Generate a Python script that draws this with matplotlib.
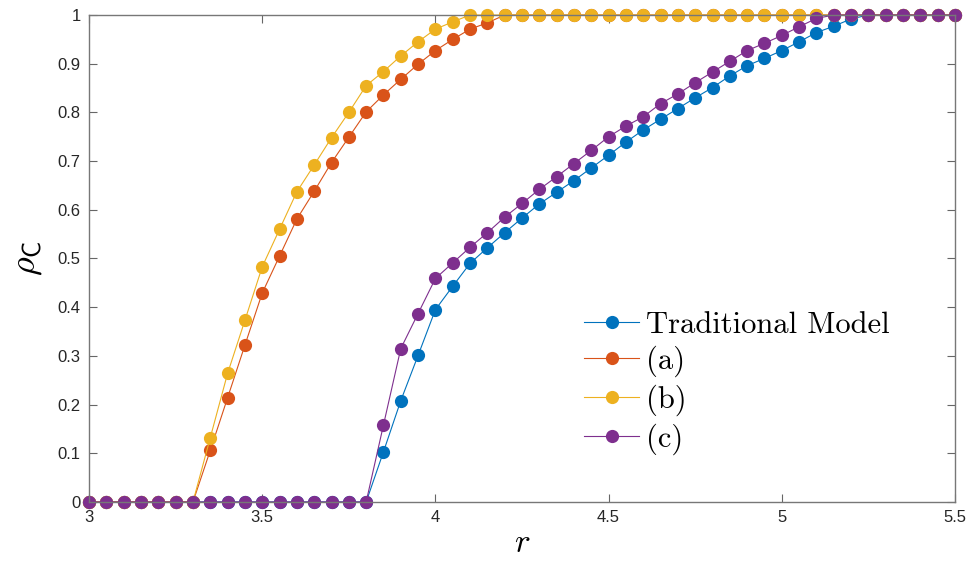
"""rho_C vs r for the traditional model and variants (a), (b), (c)."""
import matplotlib
matplotlib.use("Agg")
import matplotlib.pyplot as plt
import numpy as np

r = np.linspace(3.0, 5.5, 51)

traditional = [0] * 17 + [
    0.103, 0.208, 0.301, 0.395, 0.443, 0.490, 0.522, 0.553, 0.583, 0.612,
    0.636, 0.660, 0.686, 0.712, 0.739, 0.764, 0.786, 0.808, 0.830, 0.851,
    0.875, 0.896, 0.911, 0.927, 0.945, 0.964, 0.977, 0.992] + [1] * 6
case_a = [0] * 7 + [
    0.106, 0.214, 0.322, 0.429, 0.505, 0.581, 0.638, 0.697, 0.749, 0.801,
    0.836, 0.868, 0.899, 0.927, 0.950, 0.971, 0.984] + [1] * 27
case_b = [0] * 7 + [
    0.132, 0.264, 0.373, 0.483, 0.560, 0.637, 0.692, 0.748, 0.800, 0.855,
    0.884, 0.916, 0.945, 0.971, 0.986] + [1] * 29
case_c = [0] * 17 + [
    0.158, 0.315, 0.387, 0.459, 0.491, 0.523, 0.553, 0.585, 0.613, 0.642,
    0.668, 0.695, 0.722, 0.750, 0.772, 0.791, 0.818, 0.838, 0.861, 0.883,
    0.905, 0.927, 0.942, 0.958, 0.976, 0.993] + [1] * 8

labels = ["Traditional Model", "(a)", "(b)", "(c)"]
colors = ["#0072BD", "#D95319", "#EDB120", "#7E2F8E"]
x_ticks = [3, 3.5, 4, 4.5, 5, 5.5]
x_ticklabels = ["3", "3.5", "4", "4.5", "5", "5.5"]
y_ticks = [0, 0.1, 0.2, 0.3, 0.4, 0.5, 0.6, 0.7, 0.8, 0.9, 1]
y_ticklabels = ["0", "0.1", "0.2", "0.3", "0.4", "0.5", "0.6", "0.7", "0.8", "0.9", "1"]

plt.rcParams["mathtext.fontset"] = "cm"
plt.rcParams["font.family"] = ["Liberation Sans", "DejaVu Sans"]

fig = plt.figure(figsize=(9.71, 5.69), dpi=100)
ax = fig.add_axes([0.0917, 0.1178, 0.8918, 0.8558])

for ys, lab, col in zip([traditional, case_a, case_b, case_c], labels, colors):
    ax.plot(r, ys, "-o", color=col, label=lab, lw=0.8, ms=9.5,
            markeredgewidth=0, clip_on=False)

ax.set_xlim(3, 5.5)
ax.set_ylim(0, 1)
ax.set_xticks(x_ticks)
ax.set_xticklabels(x_ticklabels)
ax.set_yticks(y_ticks)
ax.set_yticklabels(y_ticklabels)
ax.tick_params(direction="in", length=6, width=0.8, color="#666666",
               labelcolor="#262626", labelsize=12, top=True, right=True,
               pad=6)
for sp in ax.spines.values():
    sp.set_color("#777777")
    sp.set_linewidth(1.0)

ax.set_xlabel(r"$r$", fontsize=24, labelpad=2)
ax.set_ylabel(r"$\rho_{\mathsf{C}}$", fontsize=26, labelpad=10)

leg = ax.legend(loc="upper left", bbox_to_anchor=(0.558, 0.417), frameon=False,
                prop={"family": "cmr10", "size": 22}, handlelength=1.8,
                handletextpad=0.2, labelspacing=0.24, borderaxespad=0)

fig.savefig("out.png", dpi=100)
